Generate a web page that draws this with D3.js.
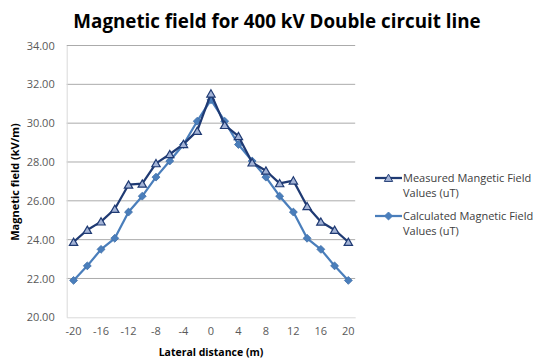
<!DOCTYPE html>
<html>
<head>
<meta charset="utf-8">
<script src="https://cdn.jsdelivr.net/npm/d3@7"></script>
<style>
  body { margin: 0; background: #fff; }
  text { font-family: 'Open Sans', 'Noto Sans', sans-serif; }
</style>
</head>
<body>
<svg id="chart" width="533" height="358"></svg>
<script>
// categories along the lateral distance axis (m)
const distances = [-20, -18, -16, -14, -12, -10, -8, -6, -4, -2, 0, 2, 4, 6, 8, 10, 12, 14, 16, 18, 20];
const measured = [23.88, 24.5, 24.93, 25.58, 26.83, 26.88, 27.93, 28.4, 28.92, 29.6, 31.52, 29.9, 29.33, 27.97, 27.55, 26.9, 27.04, 25.72, 24.92, 24.5, 23.88];
const calculated = [21.9, 22.65, 23.5, 24.07, 25.42, 26.24, 27.22, 28.05, 28.9, 30.1, 31.2, 30.1, 28.9, 28.05, 27.22, 26.24, 25.42, 24.07, 23.5, 22.65, 21.9];
const yTicks = [20, 22, 24, 26, 28, 30, 32, 34];
const seriesNames = ['Measured Mangetic Field Values (uT)', 'Calculated Magnetic Field Values (uT)'];

const svg = d3.select('#chart');
const margin = { top: 45.5, left: 66.7 };
const width = 288.5;
const height = 271.8;

const g = svg.append('g')
  .attr('transform', `translate(${margin.left},${margin.top})`);

const x = d3.scaleBand().domain(distances).range([0, width]);
const y = d3.scaleLinear().domain([20, 34]).range([height, 0]);
const cx = d => x(d) + x.bandwidth() / 2;

// gridlines
g.selectAll('.grid')
  .data(yTicks.slice(1))
  .enter().append('line')
  .attr('x1', 0).attr('x2', width)
  .attr('y1', d => y(d)).attr('y2', d => y(d))
  .attr('stroke', '#ababab').attr('stroke-width', 1);

// axes
const yAxis = g.append('g')
  .call(d3.axisLeft(y).tickValues(yTicks).tickFormat(d3.format('.2f')).tickSize(0).tickPadding(12));
yAxis.select('.domain').attr('stroke', '#d9d9d9');
yAxis.selectAll('text').attr('fill', '#595959').attr('font-size', 11);

const xAxis = g.append('g')
  .attr('transform', `translate(0,${height})`)
  .call(d3.axisBottom(x).tickValues(distances.filter((d, i) => i % 2 === 0)).tickSize(0).tickPadding(10));
xAxis.select('.domain').attr('stroke', '#d9d9d9');
xAxis.selectAll('text').attr('fill', '#595959').attr('font-size', 11);

const line = d3.line()
  .x((d, i) => cx(distances[i]))
  .y(d => y(d));

// calculated series (drawn first, under measured)
g.append('path')
  .datum(calculated)
  .attr('fill', 'none')
  .attr('stroke', '#4a7ebb')
  .attr('stroke-width', 2.25)
  .attr('stroke-linejoin', 'round')
  .attr('d', line);

const diamond = d3.symbol().type(d3.symbolDiamond2).size(40);
const triangle = d3.symbol().type(d3.symbolTriangle2).size(50);

g.selectAll('.calc')
  .data(calculated)
  .enter().append('path')
  .attr('transform', (d, i) => `translate(${cx(distances[i])},${y(d)})`)
  .attr('d', diamond)
  .attr('fill', '#4a7ebb')
  .attr('stroke', '#3f6fa8')
  .attr('stroke-width', 0.8);

g.append('path')
  .datum(measured)
  .attr('fill', 'none')
  .attr('stroke', '#1f3a73')
  .attr('stroke-width', 2.25)
  .attr('stroke-linejoin', 'round')
  .attr('d', line);

g.selectAll('.meas')
  .data(measured)
  .enter().append('path')
  .attr('transform', (d, i) => `translate(${cx(distances[i])},${y(d) + 1})`)
  .attr('d', triangle)
  .attr('fill', '#a3b3d6')
  .attr('stroke', '#1f3a73')
  .attr('stroke-width', 1.2);

// title
svg.append('text')
  .attr('x', 277).attr('y', 28)
  .attr('text-anchor', 'middle')
  .attr('font-size', 18.8).attr('font-weight', 'bold')
  .attr('fill', '#000')
  .text('Magnetic field for 400 kV Double circuit line');

// axis titles
svg.append('text')
  .attr('transform', 'translate(19,182) rotate(-90)')
  .attr('text-anchor', 'middle')
  .attr('font-size', 11).attr('font-weight', 'bold')
  .attr('fill', '#000')
  .text('Magnetic field (kV/m)');

svg.append('text')
  .attr('x', 211).attr('y', 356)
  .attr('text-anchor', 'middle')
  .attr('font-size', 10.5).attr('font-weight', 'bold')
  .attr('fill', '#000')
  .text('Lateral distance  (m)');

// legend
const legend = svg.append('g').attr('transform', 'translate(375,178)');
const legendItems = [
  { name: seriesNames[0], color: '#1f3a73', sym: triangle, fill: '#a3b3d6', dy: 1 },
  { name: seriesNames[1], color: '#4a7ebb', sym: diamond, fill: '#4a7ebb', dy: 0 }
];
legendItems.forEach((item, i) => {
  const row = legend.append('g').attr('transform', `translate(0,${i * 38})`);
  row.append('line')
    .attr('x1', 0).attr('x2', 27)
    .attr('stroke', item.color).attr('stroke-width', 2.25);
  row.append('path')
    .attr('transform', `translate(13.5,${item.dy})`)
    .attr('d', item.sym)
    .attr('fill', item.fill)
    .attr('stroke', item.color)
    .attr('stroke-width', 1);
  const words = item.name.split(' ');
  const t = row.append('text')
    .attr('x', 28).attr('y', 4)
    .attr('font-size', 11).attr('fill', '#404040');
  t.append('tspan').attr('x', 28).text(words.slice(0, 3).join(' '));
  t.append('tspan').attr('x', 28).attr('dy', 15).text(words.slice(3).join(' '));
});
</script>
</body>
</html>
